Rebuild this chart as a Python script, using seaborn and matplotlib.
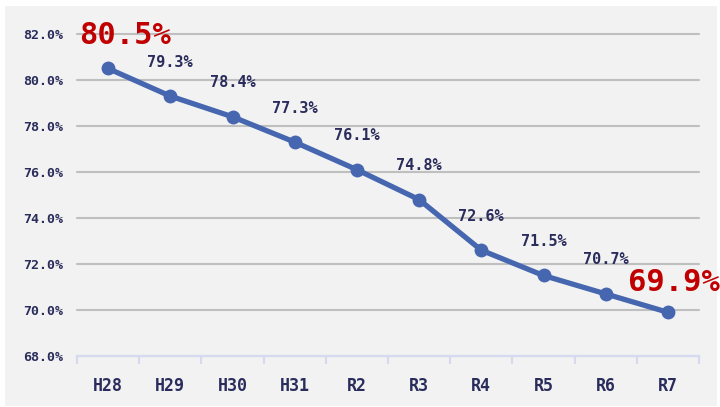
import matplotlib
matplotlib.use("Agg")
import matplotlib.pyplot as plt
import matplotlib.ticker as mticker
from matplotlib.patches import Rectangle
import seaborn as sns
import pandas as pd

# ---------------------------------------------------------------------------
# Data
# ---------------------------------------------------------------------------

YEARS  = ["H28", "H29", "H30", "H31", "R2", "R3", "R4", "R5", "R6", "R7"]
RATES  = [80.5, 79.3, 78.4, 77.3, 76.1, 74.8, 72.6, 71.5, 70.7, 69.9]
Y_TICKS = [68.0, 70.0, 72.0, 74.0, 76.0, 78.0, 80.0, 82.0]

# ---------------------------------------------------------------------------
# Style
# ---------------------------------------------------------------------------

BG_COLOR    = "#F2F2F2"
LINE_COLOR  = "#4666B0"
GRID_COLOR  = "#BFBFBF"
AXIS_COLOR  = "#D6DAF0"
TEXT_COLOR  = "#2A2D5C"
HILITE      = "#C00000"
FONT        = ["DejaVu Sans Mono", "DejaVu Sans"]

sns.set_style("white")
plt.rcParams["font.family"] = FONT

df = pd.DataFrame({"year": YEARS, "rate": RATES})
df["x"] = range(len(df))

fig = plt.figure(figsize=(7.2, 4.07), dpi=100)
fig.patch.set_facecolor("white")
fig.patches.append(Rectangle((5 / 720, 1 / 407), 712 / 720, 400 / 407,
                             transform=fig.transFigure, facecolor=BG_COLOR,
                             edgecolor="none", zorder=-5))

ax = fig.add_axes([77 / 720, 1 - 356 / 407, 622 / 720, 322 / 407])
ax.set_facecolor(BG_COLOR)
ax.set_zorder(1)

sns.lineplot(data=df, x="x", y="rate", color=LINE_COLOR, linewidth=3.8,
             marker="o", markersize=10, markeredgewidth=0, ax=ax, zorder=3)

ax.set_xlim(-0.5, len(YEARS) - 0.5)
ax.set_ylim(Y_TICKS[0], Y_TICKS[-1])
ax.set_yticks(Y_TICKS)
ax.yaxis.set_major_formatter(mticker.FuncFormatter(lambda v, _: f"{v:.1f}%"))
ax.set_xticks(df["x"])
ax.set_xticklabels(YEARS)
ax.set_xticks([i - 0.5 for i in range(len(YEARS) + 1)], minor=True)

ax.grid(axis="y", color=GRID_COLOR, linewidth=1.5)
ax.grid(axis="x", visible=False)
for gl in ax.get_ygridlines():
    gl.set_clip_on(False)
for name, spine in ax.spines.items():
    spine.set_visible(name == "bottom")
ax.spines["bottom"].set_color(AXIS_COLOR)
ax.spines["bottom"].set_linewidth(1.5)
ax.spines["bottom"].set_zorder(4)

ax.tick_params(axis="x", which="major", bottom=True, length=0, pad=15,
               labelsize=12, labelcolor=TEXT_COLOR)
ax.tick_params(axis="x", which="minor", bottom=True, length=6, width=1.5,
               color=AXIS_COLOR)
ax.tick_params(axis="y", length=0, pad=10, labelsize=9.5, labelcolor=TEXT_COLOR)
for lab in ax.get_xticklabels() + ax.get_yticklabels():
    lab.set_fontweight("bold")

ax.set_xlabel("")
ax.set_ylabel("")

# Value labels: first and last are highlighted in large red
last = len(df) - 1
for i, row in df.iterrows():
    label = f"{row['rate']:.1f}%"
    if i in (0, last):
        offset = (17, 33) if i == 0 else (6, 30)
        ax.annotate(label, (row["x"], row["rate"]), xytext=offset,
                    textcoords="offset pixels", ha="center", va="center",
                    fontsize=22, fontweight="bold", color=HILITE,
                    zorder=5, annotation_clip=False)
    else:
        ax.annotate(label, (row["x"], row["rate"]), xytext=(0, 34),
                    textcoords="offset pixels", ha="center", va="center",
                    fontsize=11, fontweight="bold", color=TEXT_COLOR,
                    zorder=5, annotation_clip=False)

fig.savefig("out.png", dpi=100, facecolor=fig.get_facecolor())
